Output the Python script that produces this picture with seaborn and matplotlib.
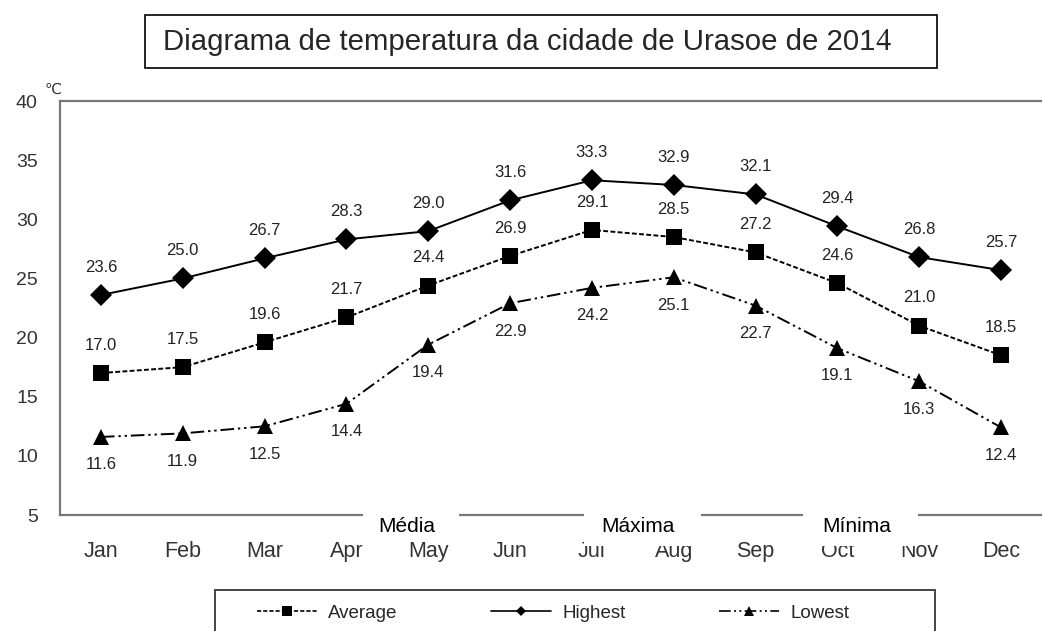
import seaborn as sns
import pandas as pd
import matplotlib.pyplot as plt
from matplotlib.patches import Rectangle
from matplotlib.lines import Line2D

months = ['Jan', 'Feb', 'Mar', 'Apr', 'May', 'Jun', 'Jul', 'Aug', 'Sep', 'Oct', 'Nov', 'Dec']
highest = [23.6, 25.0, 26.7, 28.3, 29.0, 31.6, 33.3, 32.9, 32.1, 29.4, 26.8, 25.7]
average = [17.0, 17.5, 19.6, 21.7, 24.4, 26.9, 29.1, 28.5, 27.2, 24.6, 21.0, 18.5]
lowest = [11.6, 11.9, 12.5, 14.4, 19.4, 22.9, 24.2, 25.1, 22.7, 19.1, 16.3, 12.4]
series_names = ['Average', 'Highest', 'Lowest']
overlay_words = ['Média', 'Máxima', 'Mínima']
title_text = 'Diagrama de temperatura da cidade de Urasoe de 201'

sns.set_theme(style='white')
plt.rcParams['font.family'] = ['Liberation Sans', 'DejaVu Sans']
narrow = ['Liberation Sans Narrow', 'Liberation Sans', 'DejaVu Sans']

df = pd.DataFrame({
    'month': months * 3,
    'temp': average + highest + lowest,
    'series': [s for s in series_names for _ in months],
})

dashes = {'Average': (2.5, 1.2), 'Highest': '', 'Lowest': (7, 2, 1.2, 2, 1.2, 2)}
markers = {'Average': 's', 'Highest': 'D', 'Lowest': '^'}

fig = plt.figure(figsize=(10.42, 6.31), dpi=100)
ax = fig.add_axes([60 / 1042, 1 - 515 / 631, 982 / 1042, 414 / 631])

sns.lineplot(data=df, x='month', y='temp', style='series', dashes=dashes, markers=markers,
             color='black', linewidth=1.4, markersize=11.5, markeredgewidth=0,
             sort=False, legend=False, ax=ax)

# value labels
for vals, off in [(highest, 20), (average, 20), (lowest, -20)]:
    for i, v in enumerate(vals):
        ax.annotate(f'{v:.1f}', (i, v), xytext=(0, off), textcoords='offset points',
                    ha='center', va='center', fontsize=12, family=narrow, color='#222222')

ax.set_xlim(-0.5, 11.5)
ax.set_ylim(5, 40)
ax.set_yticks(range(5, 45, 5))
ax.set_yticklabels([str(t) for t in range(5, 45, 5)], family=narrow, fontsize=14, color='#333333')
ax.set_xticks(range(12))
ax.set_xticklabels(months, fontsize=15.5, color='#333333')
ax.set_xticks([i + 0.5 for i in range(11)], minor=True)
ax.tick_params(axis='x', which='major', length=0, pad=19)
ax.tick_params(axis='x', which='minor', direction='in', length=6, width=1, color='#777777')
ax.tick_params(axis='y', direction='in', length=5, width=1, color='#555555', pad=16)
ax.set_xlabel('')
ax.set_ylabel('')
for side in ['left', 'top', 'bottom']:
    ax.spines[side].set_color('#777777')
    ax.spines[side].set_linewidth(1.6)
ax.spines['right'].set_visible(False)
ax.text(-0.007, 1.01, '℃', transform=ax.transAxes, ha='center', va='bottom',
        fontsize=11, family=narrow, color='#333333')

# title box
fig.add_artist(Rectangle((145 / 1042, 1 - 68 / 631), 792 / 1042, 53 / 631,
                         transform=fig.transFigure, fill=False, edgecolor='black', linewidth=1.2))
t = fig.text(163 / 1042, 1 - 50 / 631, title_text, ha='left', va='baseline', fontsize=21.2)
fig.canvas.draw()
bb = t.get_window_extent()
fig.text(bb.x1 / 1042, 1 - 50 / 631, '4', ha='left', va='baseline', fontsize=22,
         family=['Liberation Serif', 'DejaVu Serif'])

# white overlay labels
for word, (x0, x1, y1) in zip(overlay_words, [(363, 459, 535), (584, 701, 546), (803, 918, 546)]):
    fig.add_artist(Rectangle((x0 / 1042, 1 - y1 / 631), (x1 - x0) / 1042, (y1 - 509) / 631,
                             transform=fig.transFigure, facecolor='white', edgecolor='none', zorder=5))
    fig.text((x0 + x1) / 2 / 1042 - 0.004, 1 - 527 / 631, word, ha='center', va='center',
             fontsize=15, color='black', zorder=6)

# legend box
fig.add_artist(Rectangle((215 / 1042, -0.05), 720 / 1042, 0.05 + 41 / 631,
                         transform=fig.transFigure, fill=False, edgecolor='#444444', linewidth=1.4))
handles = [Line2D([], [], color='black', linewidth=1.2, dashes=(2.5, 1.2) if s == 'Average' else
                  ((7, 2, 1.2, 2, 1.2, 2) if s == 'Lowest' else (None, None)),
                  marker=markers[s], markersize=7 if s != 'Highest' else 5, markeredgewidth=0)
           for s in series_names]
handles[1].set_linestyle('-')
fig.legend(handles, series_names, loc='center', bbox_to_anchor=(553 / 1042, 1 - 613 / 631),
           ncol=3, frameon=False, fontsize=13.5, handlelength=3.2, columnspacing=5.0,
           handletextpad=0.6)

fig.savefig('out.png', dpi=100)
